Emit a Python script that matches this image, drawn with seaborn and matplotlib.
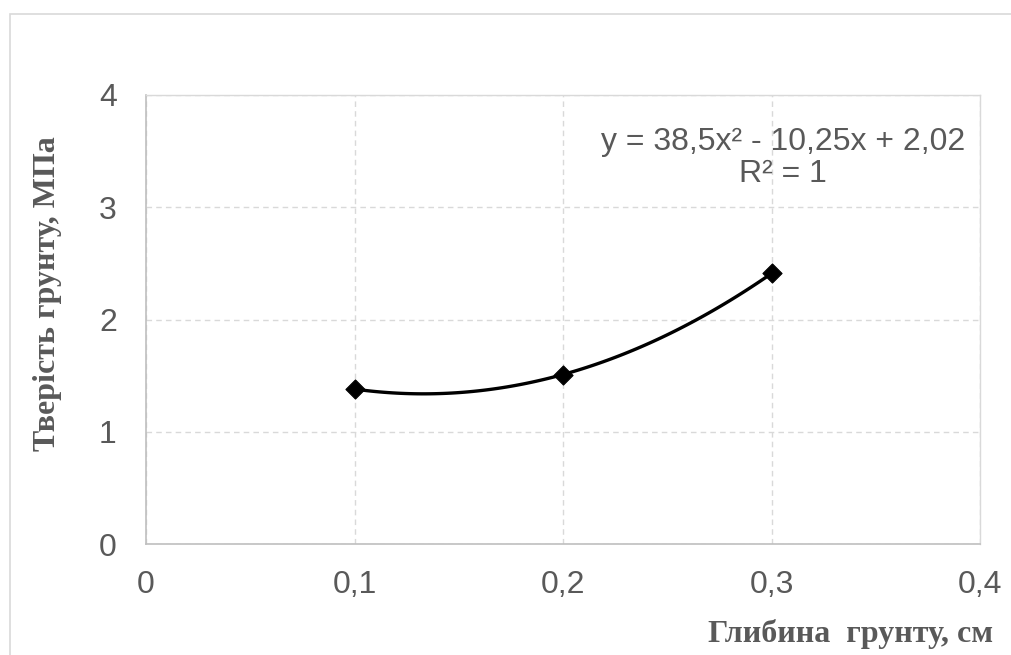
import matplotlib
matplotlib.use('Agg')
import matplotlib.pyplot as plt
import seaborn as sns
import pandas as pd
from matplotlib.patches import Rectangle

# Data
depth = [0.1, 0.2, 0.3]
hardness = [1.38, 1.51, 2.41]
x_ticks = [0, 0.1, 0.2, 0.3, 0.4]
x_tick_labels = ['0', '0,1', '0,2', '0,3', '0,4']
y_ticks = [0, 1, 2, 3, 4]
y_tick_labels = ['0', '1', '2', '3', '4']
equation = 'y = 38,5x² - 10,25x + 2,02\nR² = 1'

df = pd.DataFrame({'depth': depth, 'hardness': hardness})

sns.set_theme(style='white')
plt.rcParams['font.family'] = ['Liberation Sans', 'DejaVu Sans']

grey = '#595959'
fig = plt.figure(figsize=(10.11, 6.55), dpi=100)
ax = fig.add_axes([146 / 1011, 111 / 655, 834 / 1011, 449 / 655])

# chart area border (cut at right and bottom)
fig.patches.append(Rectangle((10 / 1011, -0.2), 1.2, 0.2 + 641 / 655,
                             transform=fig.transFigure, fill=False,
                             edgecolor='#d9d9d9', linewidth=1.2, clip_on=False))

# quadratic trendline, then the markers on top
sns.regplot(data=df, x='depth', y='hardness', order=2, ci=None, scatter=False,
            line_kws={'color': 'black', 'linewidth': 2.4, 'zorder': 3}, ax=ax)
sns.scatterplot(data=df, x='depth', y='hardness', marker='D', s=95,
                color='black', edgecolor='black', zorder=4, ax=ax)

ax.set_xlim(0, 0.4)
ax.set_ylim(0, 4)
ax.set_xticks(x_ticks)
ax.set_xticklabels(x_tick_labels)
ax.set_yticks(y_ticks)
ax.set_yticklabels(y_tick_labels)
ax.tick_params(axis='both', length=0, labelsize=23, labelcolor=grey)
ax.tick_params(axis='x', pad=19)
ax.tick_params(axis='y', pad=21)

ax.grid(True, linestyle=(0, (4, 3)), color='#d9d9d9', linewidth=1)
ax.set_axisbelow(True)
for side in ['left', 'bottom']:
    ax.spines[side].set_color('#bfbfbf')
    ax.spines[side].set_linewidth(1.2)
for side in ['top', 'right']:
    ax.spines[side].set_color('#d9d9d9')
    ax.spines[side].set_linewidth(1)

ax.set_xlabel('Глибина  грунту, см', fontsize=23, fontweight='bold',
              color=grey, family=['Liberation Serif', 'DejaVu Serif'],
              ha='right', va='center')
ax.xaxis.set_label_coords(1.0156, -0.2)
ax.set_ylabel('Тверість грунту, МПа', fontsize=23, fontweight='bold',
              color=grey, family=['Liberation Serif', 'DejaVu Serif'],
              va='center')
ax.yaxis.set_label_coords(-0.118, 0.557)

ax.text(0.764, 0.86, equation, transform=ax.transAxes, ha='center',
        va='center', fontsize=23, color=grey, linespacing=1.08)

fig.savefig('out.png', dpi=100, facecolor='white')
